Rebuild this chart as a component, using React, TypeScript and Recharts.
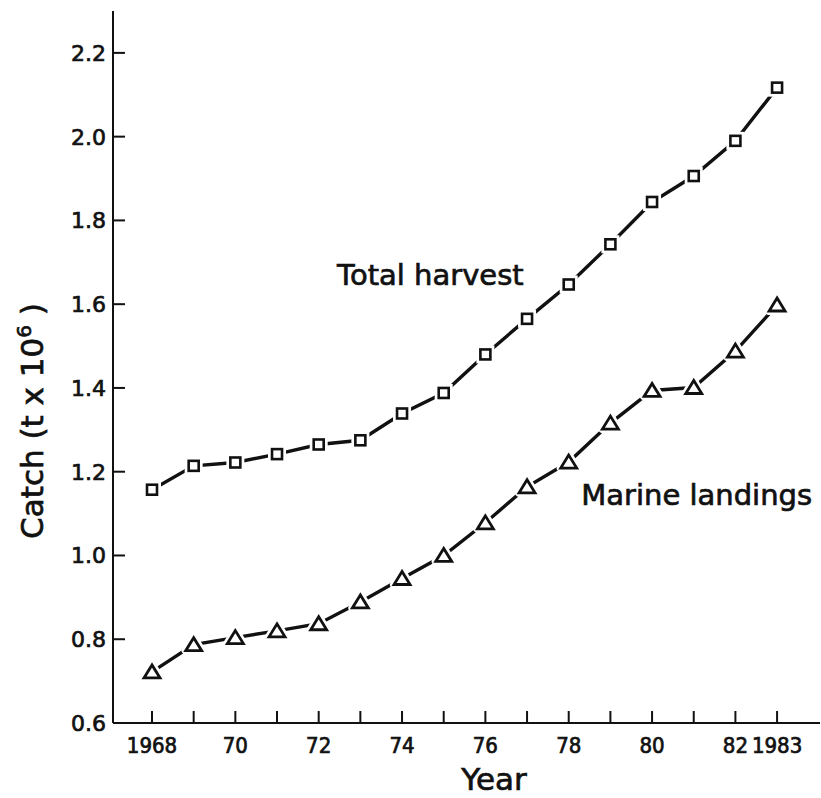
import { LineChart, Line, XAxis, YAxis, ReferenceDot } from "recharts";

// catch in millions of tonnes
const years = [1968, 1969, 1970, 1971, 1972, 1973, 1974, 1975, 1976, 1977, 1978, 1979, 1980, 1981, 1982, 1983];
const totalHarvest = [1.157, 1.214, 1.222, 1.242, 1.265, 1.275, 1.339, 1.388, 1.48, 1.565, 1.647, 1.743, 1.844, 1.906, 1.99, 2.117];
const marineLandings = [0.722, 0.787, 0.804, 0.82, 0.837, 0.889, 0.945, 1.0, 1.078, 1.164, 1.223, 1.316, 1.394, 1.401, 1.488, 1.598];

const xTickLabels = ["1968", "", "70", "", "72", "", "74", "", "76", "", "78", "", "80", "", "82", "1983"];
const yTicks = [0.6, 0.8, 1.0, 1.2, 1.4, 1.6, 1.8, 2.0, 2.2];
const yTickLabels = ["0.6", "0.8", "1.0", "1.2", "1.4", "1.6", "1.8", "2.0", "2.2"];

const seriesNames = ["Total harvest", "Marine landings"];

const data = years.map((year, i) => ({
  year,
  total: totalHarvest[i],
  marine: marineLandings[i],
}));

const FONT = "'DejaVu Sans', sans-serif";
const NARROW = "'DejaVu Sans Condensed', 'DejaVu Sans', sans-serif";
const INK = "#111";
// the lettering in the scan is a bit heavier than the regular face
const heavy = { stroke: INK, strokeWidth: 0.7 };

function XTick(props: any) {
  const { x, y, payload } = props;
  const i = years.indexOf(payload.value);
  return (
    <g>
      <line x1={x} y1={y} x2={x} y2={y - 12} stroke={INK} strokeWidth={2} />
      <text x={x} y={y + 30} textAnchor="middle" fontFamily={NARROW} fontSize={22} fill={INK} {...heavy}>
        {i >= 0 ? xTickLabels[i] : ""}
      </text>
    </g>
  );
}

function YTick(props: any) {
  const { x, y, payload } = props;
  const i = yTicks.findIndex((t) => Math.abs(t - payload.value) < 1e-6);
  return (
    <g>
      <line x1={x} y1={y} x2={x + 12} y2={y} stroke={INK} strokeWidth={2} />
      <text x={x - 7} y={y} dy="0.36em" textAnchor="end" fontFamily={FONT} fontSize={22} fill={INK} {...heavy}>
        {i >= 0 ? yTickLabels[i] : ""}
      </text>
    </g>
  );
}

function SquareDot(props: any) {
  const { cx, cy, index } = props;
  if (cx == null || cy == null) return <g key={`sq-${index}`} />;
  return (
    <g key={`sq-${index}`}>
      <rect x={cx - 9} y={cy - 9} width={18} height={18} fill="#fff" />
      <rect x={cx - 5} y={cy - 5} width={10} height={10} fill="#fff" stroke={INK} strokeWidth={2.6} />
    </g>
  );
}

function TriangleDot(props: any) {
  const { cx, cy, index } = props;
  if (cx == null || cy == null) return <g key={`tr-${index}`} />;
  const pts = `${cx},${cy - 7} ${cx - 8},${cy + 6} ${cx + 8},${cy + 6}`;
  return (
    <g key={`tr-${index}`}>
      <polygon points={pts} fill="#fff" stroke="#fff" strokeWidth={8} strokeLinejoin="round" />
      <polygon points={pts} fill="#fff" stroke={INK} strokeWidth={2.8} strokeLinejoin="miter" />
    </g>
  );
}

function seriesLabel(text: string) {
  return (p: any) => {
    const vb = p.viewBox || {};
    const cx = (vb.x ?? 0) + (vb.width ?? 0) / 2;
    const cy = (vb.y ?? 0) + (vb.height ?? 0) / 2;
    return (
      <text x={cx} y={cy} textAnchor="middle" fontFamily={FONT} fontSize={29} fill={INK} {...heavy}>
        {text}
      </text>
    );
  };
}

export default function App() {
  return (
    <div style={{ position: "absolute", left: 0, top: 0, width: 821, height: 798, background: "#fff" }}>
      <LineChart width={821} height={798} data={data} margin={{ top: 11, right: 1, left: 0, bottom: 0 }}>
        <XAxis
          type="number"
          dataKey="year"
          domain={[1967.064, 1984.03]}
          ticks={years}
          interval={0}
          allowDataOverflow
          height={75}
          tickSize={0}
          tickMargin={0}
          tickLine={false}
          axisLine={{ stroke: INK, strokeWidth: 2 }}
          tick={<XTick />}
          label={{
            content: (p: any) => {
              const vb = p.viewBox || {};
              return (
                <text x={(vb.x ?? 0) + 381} y={(vb.y ?? 0) + 67} textAnchor="middle" fontFamily={FONT} fontSize={31} fill={INK} {...heavy}>
                  Year
                </text>
              );
            },
          }}
        />
        <YAxis
          type="number"
          domain={[0.6, 2.3]}
          ticks={yTicks}
          interval={0}
          allowDataOverflow
          width={113}
          tickSize={0}
          tickMargin={0}
          tickLine={false}
          axisLine={{ stroke: INK, strokeWidth: 2 }}
          tick={<YTick />}
          label={{
            content: (p: any) => {
              const vb = p.viewBox || {};
              const x = (vb.x ?? 0) + 43;
              const y = 421;
              return (
                <text x={x} y={y} transform={`rotate(-90, ${x}, ${y})`} textAnchor="middle" fontFamily={FONT} fontSize={31} fill={INK} {...heavy}>
                  Catch (t x 10<tspan dy={-12} fontSize={20}>6</tspan>
                  <tspan dy={12}> )</tspan>
                </text>
              );
            },
          }}
        />
        <Line
          type="linear"
          dataKey="total"
          name={seriesNames[0]}
          stroke={INK}
          strokeWidth={3.4}
          dot={(p: any) => <SquareDot {...p} key={`sq-${p.index}`} />}
          activeDot={false}
          isAnimationActive={false}
        />
        <Line
          type="linear"
          dataKey="marine"
          name={seriesNames[1]}
          stroke={INK}
          strokeWidth={3.4}
          dot={(p: any) => <TriangleDot {...p} key={`tr-${p.index}`} />}
          activeDot={false}
          isAnimationActive={false}
        />
        <ReferenceDot x={1974.68} y={1.645} r={1} fill="none" stroke="none" label={{ content: seriesLabel(seriesNames[0]) }} />
        <ReferenceDot x={1981.07} y={1.12} r={1} fill="none" stroke="none" label={{ content: seriesLabel(seriesNames[1]) }} />
      </LineChart>
    </div>
  );
}
